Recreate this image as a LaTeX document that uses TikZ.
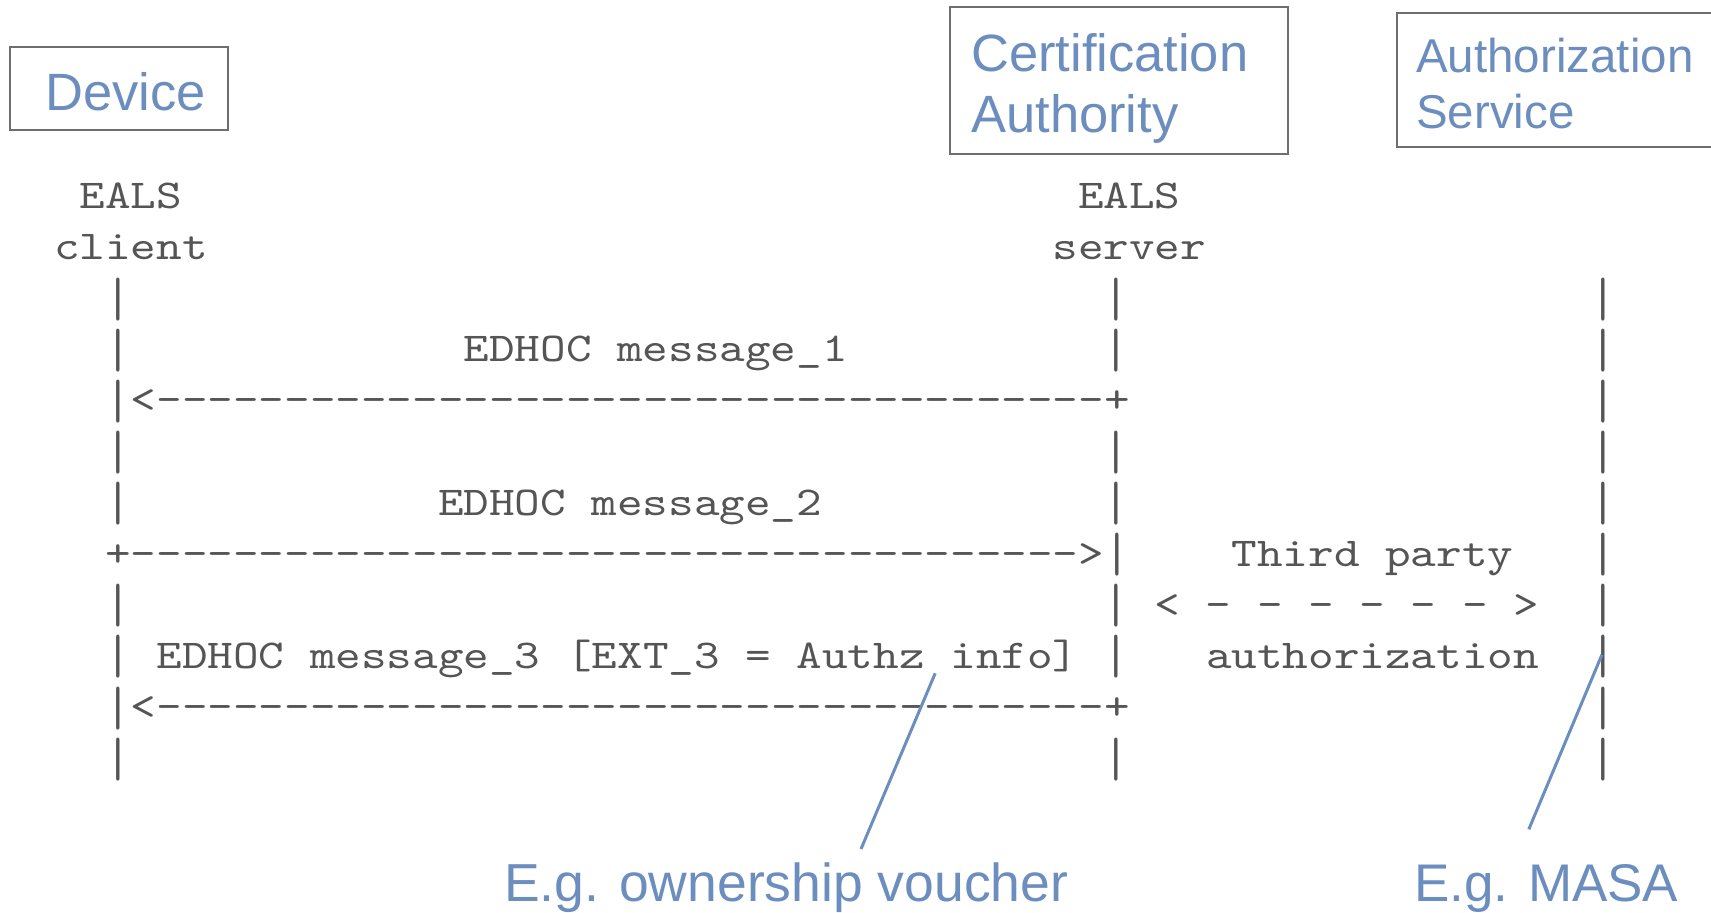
\documentclass[tikz,border=0pt]{standalone}
\usepackage{graphicx}
\usepackage{fontspec}
\setmainfont{Liberation Sans}
\newfontfamily\courfont{lmmono10-regular.otf}[FakeStretch=1.19]
\newcommand\vbar{\smash{\raisebox{-5.5pt}{\scalebox{1}[1.35]{|}}}}
\definecolor{ink}{RGB}{85,85,85}
\definecolor{blu}{RGB}{108,142,191}
\definecolor{framegray}{RGB}{110,110,110}
\tikzset{
  mono/.style={font=\courfont\fontsize{41}{51}\selectfont, text=ink, anchor=base west, inner sep=0pt, outer sep=0pt},
  lbl/.style={font=\fontsize{52.5}{61}\selectfont, text=blu, anchor=base west, inner sep=0pt},
  lblsmall/.style={font=\fontsize{47.5}{56}\selectfont, text=blu, anchor=base west, inner sep=0pt},
  frame/.style={draw=framegray, line width=2pt},
  callout/.style={draw=blu, line width=3pt},
}
\begin{document}
\begin{tikzpicture}[x=1pt,y=-1pt]
\useasboundingbox (0,0) rectangle (1711,913);
\clip (0,0) rectangle (1711,913);
% ---- boxes ----
\draw[frame] (9.8,46.9) rectangle (228,129.9);
\node[lbl] (device) at (45,110) {Device};
\draw[frame] (950.4,6.5) rectangle (1287.6,153.9);
\node[lbl] (ca1) at (971,71) {Certification};
\node[lbl] (ca2) at (971,132) {Authority};
\draw[frame] (1396.7,13.1) rectangle (1730,147.3);
\node[lblsmall] (as1) at (1416,72) {Authorization};
\node[lblsmall] (as2) at (1416,128) {Service};
% ---- ASCII sequence diagram ----
\node[mono] (ealsc) at (79.6,208.5) {EALS};
\node[mono] (ealss) at (1078,208.5) {EALS};
\node[mono] (client) at (54,259.6) {client};
\node[mono] (server) at (1052.4,259.6) {server};
% lifeline bars
\foreach \y [count=\i] in {310.7,361.8,464,515.1,617.3,668.4,770.6} {
  \node[mono] (cl\i) at (105.2,\y) {\vbar};
  \node[mono] (sv\i) at (1103.6,\y) {\vbar};
}
\foreach \y [count=\i] in {310.7,361.8,412.9,464,515.1,566.2,617.3,668.4,719.5,770.6} {
  \node[mono] (as\i) at (1590,\y) {\vbar};
}
\node[mono] (m1) at (463.6,361.8) {EDHOC message\_1};
\node[mono] (a1) at (105.2,412.9) {\vbar<-------------------------------------+};
\node[mono] (m2) at (438,515.1) {EDHOC message\_2};
\node[mono] (a2) at (105.2,566.2) {+------------------------------------->\vbar};
\node[mono] (tp1) at (1231.6,566.2) {Third party};
\node[mono] (tp2) at (1154.8,617.3) {< - - - - - - >};
\node[mono] (m3) at (156.4,668.4) {EDHOC message\_3 [EXT\_3 = Authz info]};
\node[mono] (tp3) at (1206,668.4) {authorization};
\node[mono] (a3) at (105.2,719.5) {\vbar<-------------------------------------+};
% ---- callouts ----
\node[lbl, font=\fontsize{53.5}{62}\selectfont] (voucher) at (504,901) {E.g. ownership voucher};
\node[lbl, font=\fontsize{53}{62}\selectfont] (masa) at (1414,901) {E.g. MASA};
\coordinate (v1) at (935.2,673.3);
\coordinate (v2) at (861,849);
\coordinate (w1) at (1601.9,654.7);
\coordinate (w2) at (1528.8,829.3);
\draw[callout] (v1) -- (v2);
\draw[callout] (w1) -- (w2);
\end{tikzpicture}
\end{document}
